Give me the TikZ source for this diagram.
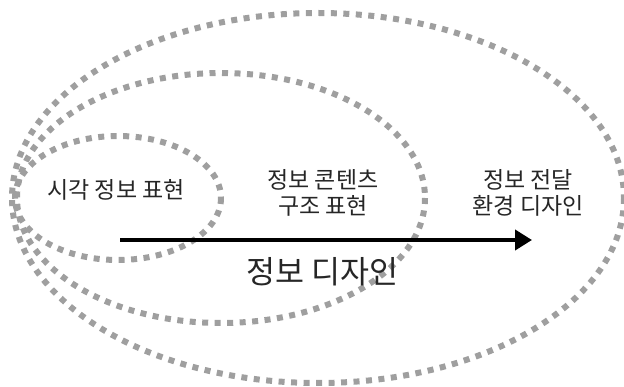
\documentclass[tikz,border=0pt]{standalone}
\usepackage{fontspec}
\setmainfont{Noto Sans CJK KR}
\usetikzlibrary{arrows.meta}
\tikzset{
  dotring/.style={draw=gray!75, line width=6pt, dash pattern=on 6pt off 6.5pt},
  lbl/.style={font=\fontsize{23}{25.5}\selectfont, align=center, inner sep=0pt, text=black!85},
  biglbl/.style={font=\fontsize{31.5}{34}\selectfont, inner sep=0pt, text=black!85},
  flow/.style={line width=4pt, -{Triangle[length=17pt,width=20pt]}}
}
\begin{document}
\begin{tikzpicture}[x=1pt,y=-1pt]
\useasboundingbox (0,0) rectangle (624,387);
\draw[dotring] (318,198) ellipse [x radius=306, y radius=185];
\draw[dotring] (221,198) ellipse [x radius=204, y radius=125];
\draw[dotring] (118,198) ellipse [x radius=103, y radius=62];
\node[lbl] (a) at (116,190) {시각 정보 표현};
\node[lbl] (b) at (323,193) {정보 콘텐츠\\구조 표현};
\node[lbl] (c) at (528,193) {정보 전달\\환경 디자인};
\coordinate (s) at (120,240);
\coordinate (e) at (532,240);
\draw[flow] (s) -- (e);
\node[biglbl] (d) at (322,272) {정보 디자인};
\end{tikzpicture}
\end{document}
